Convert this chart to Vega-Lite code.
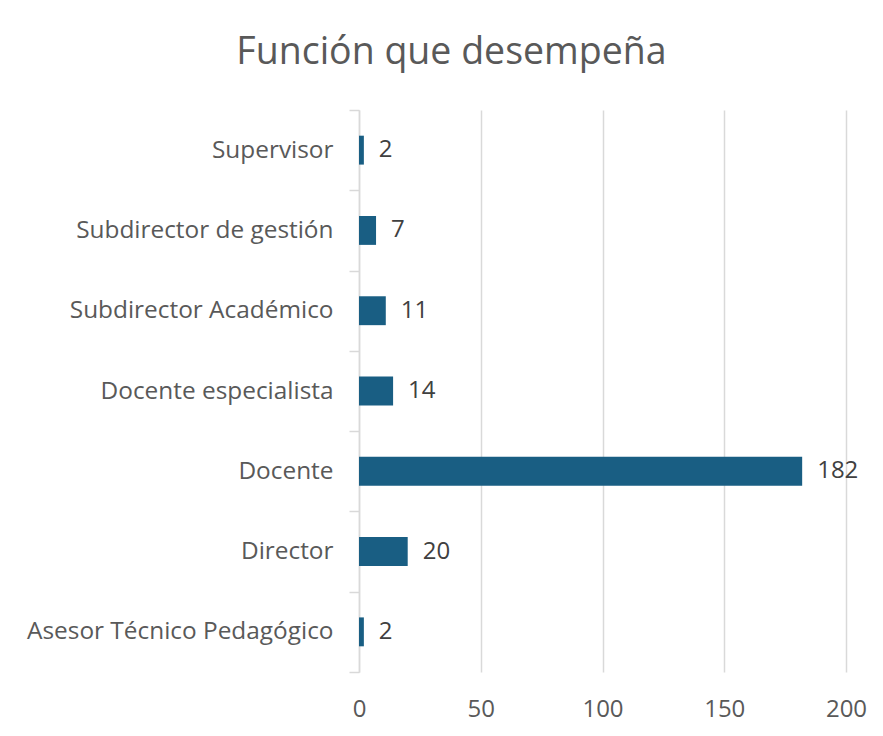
{
  "$schema": "https://vega.github.io/schema/vega-lite/v6.json",
  "autosize": "none",
  "width": 487,
  "height": 562,
  "padding": {"left": 359, "top": 110, "right": 37, "bottom": 64},
  "background": "white",
  "config": {
    "font": "Open Sans",
    "view": {"stroke": null}
  },
  "title": {
    "text": "Función que desempeña",
    "fontSize": 37.5,
    "fontWeight": "normal",
    "color": "#595959",
    "anchor": "middle",
    "dx": -151,
    "baseline": "alphabetic",
    "offset": -4
  },
  "data": {
    "values": [
      {"funcion": "Supervisor", "n": 2},
      {"funcion": "Subdirector de gestión", "n": 7},
      {"funcion": "Subdirector Académico", "n": 11},
      {"funcion": "Docente especialista", "n": 14},
      {"funcion": "Docente", "n": 182},
      {"funcion": "Director", "n": 20},
      {"funcion": "Asesor Técnico Pedagógico", "n": 2}
    ]
  },
  "encoding": {
    "y": {
      "field": "funcion",
      "type": "nominal",
      "sort": null,
      "title": null,
      "scale": {"paddingInner": 0, "paddingOuter": 0},
      "axis": {
        "tickBand": "extent",
        "tickSize": 10,
        "tickColor": "#d9d9d9",
        "tickWidth": 1.5,
        "domainColor": "#d9d9d9",
        "domainWidth": 1.5,
        "labelFontSize": 24.4,
        "labelColor": "#595959",
        "labelPadding": 16,
        "labelLimit": 0,
        "grid": false
      }
    },
    "x": {
      "field": "n",
      "type": "quantitative",
      "title": null,
      "scale": {"domain": [0, 200], "nice": false},
      "axis": {
        "values": [0, 50, 100, 150, 200],
        "domain": false,
        "ticks": false,
        "grid": true,
        "gridColor": "#d9d9d9",
        "gridWidth": 1.5,
        "labelFontSize": 24,
        "labelColor": "#595959",
        "labelPadding": 25,
        "labelFlush": false
      }
    }
  },
  "layer": [
    {
      "mark": {"type": "bar", "color": "#195e83", "height": {"band": 0.36}}
    },
    {
      "mark": {"type": "text", "align": "left", "dx": 15, "fontSize": 24, "color": "#404040", "baseline": "middle"},
      "encoding": {"text": {"field": "n", "type": "quantitative"}}
    }
  ]
}
